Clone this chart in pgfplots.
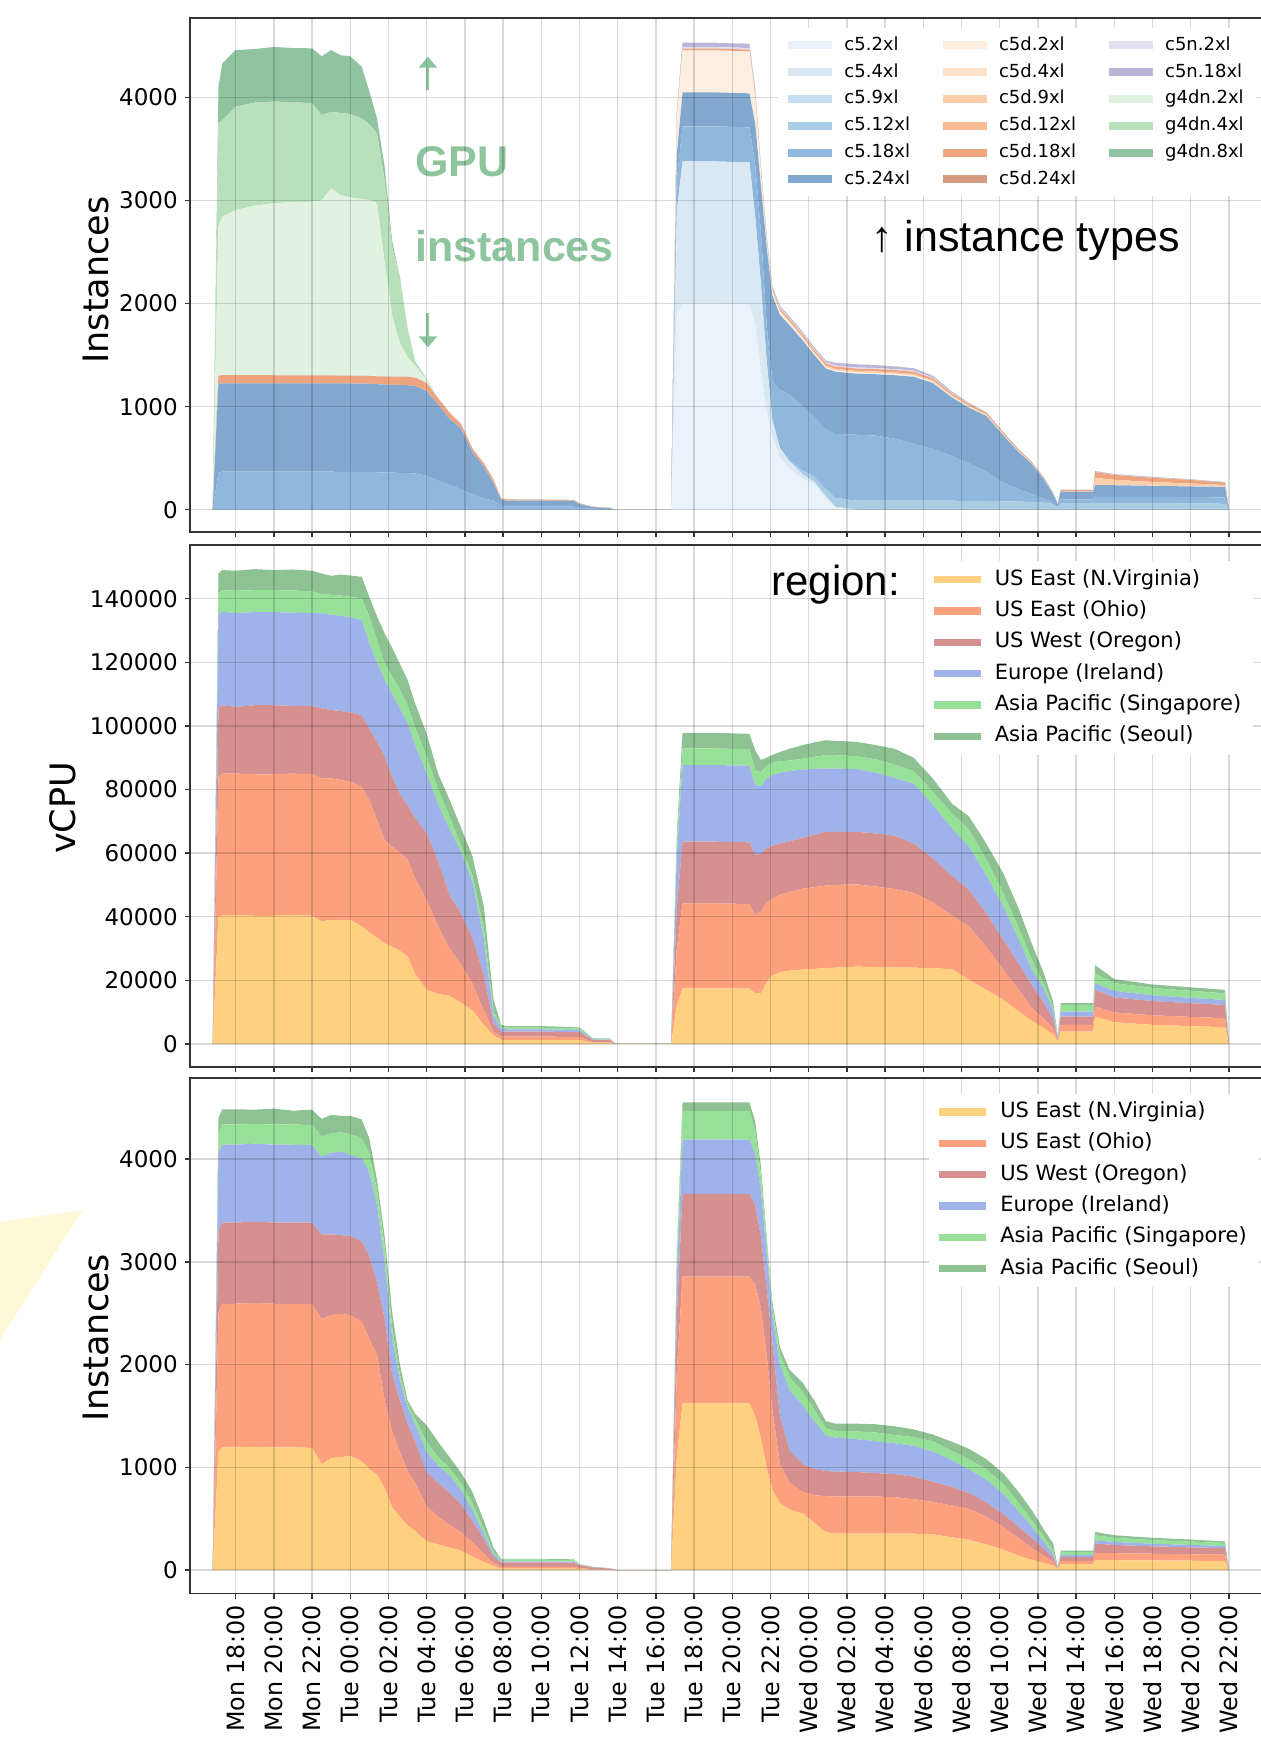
\documentclass[border=0pt]{standalone}
\usepackage{pgfplots}
\pgfplotsset{compat=1.18}
\usepackage{pgfplotstable}
\usepackage{fontspec}
\setmainfont{DejaVu Sans}
\newfontfamily\lib{Liberation Sans}
\usetikzlibrary{arrows.meta}

\definecolor{cA}{HTML}{EAF2FB}
\definecolor{cB}{HTML}{DAE8F4}
\definecolor{cC}{HTML}{C6DEEF}
\definecolor{cD}{HTML}{A9CDE5}
\definecolor{cE}{HTML}{8FB8DC}
\definecolor{cF}{HTML}{82A8CF}
\definecolor{dA}{HTML}{FDEEE2}
\definecolor{dB}{HTML}{FDE1CA}
\definecolor{dC}{HTML}{FCCFAB}
\definecolor{dD}{HTML}{F9BB92}
\definecolor{dE}{HTML}{EEA57F}
\definecolor{dF}{HTML}{D49C85}
\definecolor{nA}{HTML}{E2E0EE}
\definecolor{nB}{HTML}{BCB5D9}
\definecolor{gA}{HTML}{E1F2E0}
\definecolor{gB}{HTML}{B8E0BA}
\definecolor{gC}{HTML}{90C4A0}
\definecolor{rNV}{HTML}{FDD17F}
\definecolor{rOH}{HTML}{FCA07D}
\definecolor{rOR}{HTML}{D79090}
\definecolor{rIE}{HTML}{9FB3EA}
\definecolor{rSG}{HTML}{96E097}
\definecolor{rSE}{HTML}{8EC292}
\definecolor{annot}{HTML}{8EC59F}
\definecolor{triY}{HTML}{FEF7D8}

\pgfplotstableread{
x A B D E F PA PC PE NA NB GA GB GC
16.8 0 0 0 0 0 0 0 0 0 0 0 0 0
17.1 0 0 0 360 860 0 0 80 0 0 1450 1000 350
17.3 0 0 0 369 857 0 0 81 0 0 1536 937 550
18.0 0 0 0 369 857 0 0 81 0 0 1601 1003 549
19.0 0 0 0 369 857 0 0 81 0 0 1643 1000 520
20.0 0 0 0 369 857 0 0 79 0 0 1670 985 530
21.0 0 0 0 369 857 0 0 79 0 0 1680 970 525
22.0 0 0 0 369 857 0 0 79 0 0 1684 955 533
22.5 0 0 0 369 857 0 0 77 0 0 1697 830 570
23.0 0 0 0 369 857 0 0 77 0 0 1816 741 600
23.5 0 0 0 368 857 0 0 77 0 0 1752 796 560
24.0 0 0 0 368 857 0 0 75 0 0 1730 810 560
24.6 0 0 0 367 857 0 0 76 0 0 1715 783 502
25.0 0 0 0 366 856 0 0 76 0 0 1707 735 320
25.4 0 0 0 364 854 0 0 77 0 0 1680 677 148
25.8 0 0 0 362 853 0 0 78 0 0 1107 800 130
26.2 0 0 0 360 852 0 0 80 0 0 588 670 50
26.6 0 0 0 358 852 0 0 81 0 0 323 636 10
27.0 0 0 0 356 852 0 0 82 0 0 190 270 10
27.4 0 0 0 352 848 0 0 82 0 0 118 40 0
28.0 0 0 0 330 820 0 0 80 0 0 30 10 0
28.6 0 0 0 280 740 0 0 60 0 0 0 0 0
29.2 0 0 0 240 640 0 0 60 0 0 0 0 0
29.8 0 0 0 200 590 0 0 40 0 0 0 0 0
30.4 0 0 0 150 410 0 0 30 0 0 0 0 0
31.0 0 0 0 110 307 0 0 33 0 0 0 0 0
31.5 0 0 0 90 166 0 0 32 0 0 0 0 0
31.9 0 0 0 40 55 0 0 13 0 0 0 0 0
32.2 0 0 0 30 58 0 0 12 0 0 0 0 0
34.0 0 0 0 30 58 0 0 10 0 0 0 0 0
35.7 0 0 0 30 55 0 0 9 0 0 0 0 0
36.0 0 0 0 20 35 0 0 6 0 0 0 0 0
36.7 0 0 0 10 15 0 0 4 0 0 0 0 0
37.6 0 0 0 5 10 0 0 4 0 0 0 0 0
37.9 0 0 0 0 0 0 0 0 0 0 0 0 0
40.8 0 0 0 0 0 0 0 0 0 0 0 0 0
41.1 1900 1000 0 300 250 350 0 15 15 30 0 0 0
41.4 2000 1380 0 340 330 405 3 17 15 40 0 0 0
43.0 2000 1380 0 340 330 405 3 17 15 40 0 0 0
44.9 1990 1380 0 340 330 405 3 17 15 40 0 0 0
45.2 1800 1050 0 500 400 250 5 25 15 35 0 0 0
45.5 1350 850 0 500 450 120 5 20 10 15 0 0 0
45.8 950 500 0 350 750 50 5 20 15 20 0 0 0
46.1 708 162 0 380 830 35 5 20 10 15 0 0 0
46.5 500 100 0 560 730 30 10 20 10 15 0 0 0
47.0 400 70 5 645 670 25 15 20 10 15 0 0 0
47.7 300 40 40 620 640 20 15 20 10 15 0 0 0
48.3 250 20 50 580 600 15 15 20 10 15 0 0 0
48.9 110 20 70 580 590 15 15 20 10 15 0 0 0
49.4 20 10 85 621 604 12 15 23 10 25 0 0 0
50.5 0 0 88 640 592 12 15 23 10 30 0 0 0
51.5 0 0 88 632 595 12 15 23 10 27 0 0 0
52.5 0 0 88 602 615 12 15 23 10 25 0 0 0
53.5 0 0 88 552 650 12 15 23 10 22 0 0 0
54.5 0 0 88 502 640 12 13 20 8 17 0 0 0
55.5 0 0 88 432 570 10 12 18 5 10 0 0 0
56.4 0 0 85 365 540 8 10 17 3 7 0 0 0
57.3 0 0 85 285 540 6 9 15 2 4 0 0 0
58.2 0 0 82 178 460 5 7 13 1 4 0 0 0
59.0 0 0 80 120 360 4 6 12 1 2 0 0 0
59.7 0 0 75 75 290 3 5 10 1 1 0 0 0
60.3 0 0 70 40 190 2 4 9 1 1 0 0 0
60.8 0 0 55 15 80 2 3 7 1 1 0 0 0
61.05 0 0 20 5 25 1 1 3 0 0 0 0 0
61.2 0 0 60 40 75 1 4 10 0 2 0 0 0
62.9 0 0 60 40 75 1 4 10 0 2 0 0 0
63.0 0 0 60 66 114 2 68 55 1 9 0 0 0
64.0 0 0 60 66 112 2 50 48 1 6 0 0 0
66.0 0 0 60 65 107 2 36 40 1 7 0 0 0
68.0 0 0 60 63 103 2 27 35 1 4 0 0 0
69.8 0 0 58 62 102 2 16 22 1 5 0 0 0
70.0 0 0 0 0 0 0 0 0 0 0 0 0 0
}\topdata

\pgfplotstableread{
x NV OH OR IE SG SE
16.8 0 0 0 0 0 0
17.1 40000 44000 21500 29500 6800 6200
17.3 40500 44500 21500 29400 6800 6300
18.0 40500 44500 21000 29500 7000 6300
19.0 40300 44500 21700 29300 6900 6600
20.0 40300 44500 21700 29300 6900 6300
21.0 40500 44500 21300 29300 7000 6600
22.0 40300 44500 21400 29300 6800 6500
22.5 38500 45000 22000 29900 6100 6400
23.0 39000 44500 21500 30000 6200 6000
23.5 39000 44000 21700 29900 6400 6600
24.0 39000 43500 21700 30000 6400 6700
24.6 37000 43900 22500 29900 6800 6800
25.0 35000 41500 22500 27000 8500 6000
25.4 33500 37000 24500 25000 7000 7500
25.8 31600 32500 26200 24100 5200 9500
26.2 30500 31500 22000 26000 5500 9000
26.6 29300 31000 18200 27000 6000 8000
27.0 27500 30500 17000 26000 5500 8000
27.4 22000 30000 19000 23000 5500 7500
28.0 17000 28260 20940 18800 5300 7300
28.6 15700 21300 20500 18000 4500 5000
29.2 15100 14900 16800 20700 4000 5300
29.8 13000 12000 16000 19500 2000 5500
30.4 10500 8500 14500 17500 2000 6000
31.0 6000 4500 11000 11500 3000 7000
31.5 2700 1100 2700 2500 1200 3800
31.9 1300 1000 1600 1000 550 550
32.2 1260 1040 1600 700 500 500
34.0 1260 1040 1600 700 500 500
35.7 1200 1000 1500 700 500 400
36.0 1200 1000 1500 600 500 400
36.7 400 200 660 140 200 180
37.6 400 200 600 150 200 150
37.9 0 0 0 0 0 0
40.8 0 0 0 0 0 0
41.1 12000 18000 13000 16500 3500 3300
41.4 17500 26700 19400 24100 5200 4950
43.0 17500 26700 19400 24100 5200 4950
44.9 17400 26600 19400 24100 5200 4800
45.2 16000 24500 18900 22000 4700 6300
45.5 15800 25700 18300 21200 4500 3800
45.8 19500 25000 17000 22000 4000 2500
46.1 21500 24100 16700 22100 4000 2500
46.5 22500 24500 16000 22300 3600 2900
47.0 23000 24800 15900 22100 3300 3700
47.7 23400 25400 16000 21500 3400 4300
48.3 23600 25700 16500 20700 3800 4500
48.9 23800 26000 16900 19900 4200 4700
49.4 24000 26000 16700 19900 4200 4500
50.5 24300 25890 16510 19700 4100 4500
51.5 24200 25300 16700 19100 4200 4500
52.5 24000 24700 16800 18200 4100 5000
53.5 24000 23500 15500 18800 4000 4200
54.5 23800 20700 13800 16900 4200 4100
55.5 23500 16900 12400 15000 4700 3100
56.4 20100 16800 11500 13600 5300 4200
57.3 17000 13500 10500 12000 5000 5000
58.2 13800 9460 9440 10500 4200 6200
59.0 10200 6800 8200 7600 3600 6100
59.7 7200 4000 7100 5000 3000 5000
60.3 5000 3000 5000 4500 1700 3300
60.8 3000 2000 2800 2700 1000 1800
61.05 730 270 200 300 500 200
61.2 3900 2070 2620 1570 2100 540
62.9 3900 2070 2620 1570 2100 540
63.0 8590 3140 5240 2100 3130 2600
64.0 6800 3100 4700 2100 2400 1300
66.0 6000 3000 4500 1800 2300 1100
68.0 5600 2900 4300 1700 2200 1100
69.8 5240 2830 4190 1570 2070 1100
70.0 0 0 0 0 0 0
}\vcpudata

\pgfplotstableread{
x NV OH OR IE SG SE
16.8 0 0 0 0 0 0
17.1 1150 1350 800 750 200 150
17.3 1194 1398 790 757 197 148
18.0 1194 1398 790 757 197 148
19.0 1200 1400 790 760 190 140
20.0 1194 1398 790 757 197 154
21.0 1194 1398 790 757 197 134
22.0 1190 1400 790 755 195 150
22.5 1030 1414 823 757 196 170
23.0 1090 1390 787 793 190 180
23.5 1100 1394 766 813 187 160
24.0 1112 1368 770 790 200 180
24.6 1060 1360 781 806 198 181
25.0 980 1270 800 820 180 150
25.4 930 1170 700 750 150 100
25.8 800 850 800 550 150 100
26.2 610 740 550 350 100 150
26.6 520 630 500 200 50 100
27.0 438 526 461 164 33 33
27.4 380 470 400 170 50 50
28.0 280 340 330 200 100 160
28.6 250 270 330 170 80 150
29.2 220 220 310 170 70 110
29.8 190 180 270 140 70 100
30.4 130 140 210 100 70 110
31.0 80 80 140 50 50 80
31.5 40 30 60 30 20 40
31.9 16 17 43 10 16 7
32.2 16 17 43 10 16 7
34.0 16 17 43 10 16 7
35.7 16 17 41 10 16 6
36.0 10 10 30 5 3 1
36.7 5 5 16 2 2 3
37.6 3 3 9 2 1 1
37.9 0 0 0 0 0 0
40.8 0 0 0 0 0 0
41.1 1100 840 550 360 190 56
41.4 1622 1234 806 527 279 82
43.0 1622 1234 806 527 279 82
44.9 1622 1234 806 527 279 82
45.2 1500 1280 770 500 230 90
45.5 1280 1270 700 450 150 80
45.8 1000 1100 650 350 100 50
46.1 780 780 660 260 70 60
46.5 650 380 470 500 100 70
47.0 590 260 310 590 130 70
47.7 550 210 270 570 130 90
48.3 460 270 255 465 110 90
48.9 370 350 245 345 70 70
49.4 355 362 243 330 65 70
50.5 355 362 238 320 75 75
51.5 355 362 228 310 85 80
52.5 355 355 225 300 80 85
53.5 355 335 220 300 85 75
54.5 350 315 195 295 100 65
55.5 320 310 180 260 90 90
56.4 295 300 155 230 100 100
57.3 250 270 140 220 100 100
58.2 200 220 125 195 100 100
59.0 140 170 110 150 80 110
59.7 100 115 95 110 60 100
60.3 70 70 70 70 50 70
60.8 45 40 40 35 30 70
61.05 5 5 5 5 5 5
61.2 60 30 40 20 25 15
62.9 60 30 40 20 25 15
63.0 100 70 90 30 50 32
64.0 97 68 80 30 40 25
66.0 95 65 72 26 34 23
68.0 92 63 67 24 32 20
69.8 90 60 65 20 30 15
70.0 0 0 0 0 0 0
}\instdata

\pgfplotsset{
  base/.style={
    scale only axis, width=538.6pt, xmin=15.6, xmax=72,
    xtick={18,20,...,70}, tick align=outside, tick pos=left,
    major tick length=2.5pt,
    grid=major, major grid style={black,opacity=0.15,line width=0.7pt},
    axis on top, axis line style={black!80,line width=0.8pt},
    major tick style={black!80,line width=0.7pt},
    stack plots=y,
    ticklabel style={font=\fontsize{11.5}{13}\selectfont},
    /pgf/number format/assume math mode=true,
    /pgf/number format/fixed,
    /pgf/number format/precision=0,
    /pgf/number format/set thousands separator={},
    scaled y ticks=false,
    legend cell align=left,
    ylabel style={font=\fontsize{17.5}{20}\selectfont, anchor=center},
  },
  reglegend/.style={
    legend style={draw=none, fill=white, inner sep=3pt, row sep=3.15pt,
      font=\fontsize{10.5}{12}\selectfont,
      nodes={inner ysep=1pt, inner xsep=3pt, text height=8pt, text depth=2.5pt}},
    /tikz/every odd column/.append style={column sep=2.3pt},
  },
}

\begin{document}
\begin{tikzpicture}
\fill[triY] (0pt,-610.85pt) -- (41.35pt,-605pt) -- (0pt,-670pt) -- cycle;

% ---------- top panel ----------
\begin{axis}[base, at={(94.9pt,-8.85pt)}, anchor=north west, height=257.15pt,
  ymin=-216, ymax=4774, ytick={0,1000,...,4000}, xticklabel={\mbox{}},
  ylabel={Instances}, ylabel style={at={(axis description cs:-0.0867,0.49)}},
  legend columns=3,
  legend style={at={(0.5461,0.980)}, anchor=north west, draw=none, fill=white,
    inner sep=3pt, row sep=2.4pt, font=\fontsize{9}{10}\selectfont,
    nodes={inner ysep=1pt, inner xsep=3pt, text height=7pt, text depth=2pt}},
  /tikz/every odd column/.append style={column sep=1pt},
  /tikz/every even column/.append style={column sep=11.5pt},
  legend image code/.code={\draw[line width=4pt,#1] (0pt,0pt) -- (22pt,0pt);},
]
\addplot[fill=cA,draw=none,forget plot] table[x=x,y=A]{\topdata}\closedcycle;
\addplot[fill=cB,draw=none,forget plot] table[x=x,y=B]{\topdata}\closedcycle;
\addplot[fill=cD,draw=none,forget plot] table[x=x,y=D]{\topdata}\closedcycle;
\addplot[fill=cE,draw=none,forget plot] table[x=x,y=E]{\topdata}\closedcycle;
\addplot[fill=cF,draw=none,forget plot] table[x=x,y=F]{\topdata}\closedcycle;
\addplot[fill=dA,draw=none,forget plot] table[x=x,y=PA]{\topdata}\closedcycle;
\addplot[fill=dC,draw=none,forget plot] table[x=x,y=PC]{\topdata}\closedcycle;
\addplot[fill=dE,draw=none,forget plot] table[x=x,y=PE]{\topdata}\closedcycle;
\addplot[fill=nA,draw=none,forget plot] table[x=x,y=NA]{\topdata}\closedcycle;
\addplot[fill=nB,draw=none,forget plot] table[x=x,y=NB]{\topdata}\closedcycle;
\addplot[fill=gA,draw=none,forget plot] table[x=x,y=GA]{\topdata}\closedcycle;
\addplot[fill=gB,draw=none,forget plot] table[x=x,y=GB]{\topdata}\closedcycle;
\addplot[fill=gC,draw=none,forget plot] table[x=x,y=GC]{\topdata}\closedcycle;
\addlegendimage{color=cA}\addlegendentry{c5.2xl}
\addlegendimage{color=dA}\addlegendentry{c5d.2xl}
\addlegendimage{color=nA}\addlegendentry{c5n.2xl}
\addlegendimage{color=cB}\addlegendentry{c5.4xl}
\addlegendimage{color=dB}\addlegendentry{c5d.4xl}
\addlegendimage{color=nB}\addlegendentry{c5n.18xl}
\addlegendimage{color=cC}\addlegendentry{c5.9xl}
\addlegendimage{color=dC}\addlegendentry{c5d.9xl}
\addlegendimage{color=gA}\addlegendentry{g4dn.2xl}
\addlegendimage{color=cD}\addlegendentry{c5.12xl}
\addlegendimage{color=dD}\addlegendentry{c5d.12xl}
\addlegendimage{color=gB}\addlegendentry{g4dn.4xl}
\addlegendimage{color=cE}\addlegendentry{c5.18xl}
\addlegendimage{color=dE}\addlegendentry{c5d.18xl}
\addlegendimage{color=gC}\addlegendentry{g4dn.8xl}
\addlegendimage{color=cF}\addlegendentry{c5.24xl}
\addlegendimage{color=dF}\addlegendentry{c5d.24xl}
\node[anchor=base west, inner sep=0pt, text=annot, font=\lib\bfseries\fontsize{21.5}{24}\selectfont] at (axis cs:27.39,3238) {GPU};
\node[anchor=base west, inner sep=0pt, text=annot, font=\lib\bfseries\fontsize{21.5}{24}\selectfont] at (axis cs:27.39,2407) {instances};
\draw[annot, line width=1.5pt, -{Triangle[width=9pt,length=5.5pt]}] (axis cs:28.07,4073) -- (axis cs:28.07,4396);
\draw[annot, line width=1.5pt, -{Triangle[width=9pt,length=5.5pt]}] (axis cs:28.07,1906) -- (axis cs:28.07,1576);
\node[anchor=base west, inner sep=0pt, font=\lib\fontsize{21.5}{24}\selectfont] at (axis cs:51.27,2504) {↑ instance types};
\end{axis}

% ---------- middle panel ----------
\begin{axis}[base, reglegend, at={(94.9pt,-272.6pt)}, anchor=north west, height=260.9pt,
  ymin=-7264, ymax=156824, ytick={0,20000,40000,60000,80000,100000,120000,140000}, xticklabel={\mbox{}},
  ylabel={vCPU}, ylabel style={at={(axis description cs:-0.1175,0.4967)}},
  legend style={at={(0.6812,0.970)}, anchor=north west},
  legend image code/.code={\draw[line width=3.6pt,#1] (0pt,0pt) -- (23.5pt,0pt);},
]
\addplot[fill=rNV,draw=none,forget plot] table[x=x,y=NV]{\vcpudata}\closedcycle;
\addplot[fill=rOH,draw=none,forget plot] table[x=x,y=OH]{\vcpudata}\closedcycle;
\addplot[fill=rOR,draw=none,forget plot] table[x=x,y=OR]{\vcpudata}\closedcycle;
\addplot[fill=rIE,draw=none,forget plot] table[x=x,y=IE]{\vcpudata}\closedcycle;
\addplot[fill=rSG,draw=none,forget plot] table[x=x,y=SG]{\vcpudata}\closedcycle;
\addplot[fill=rSE,draw=none,forget plot] table[x=x,y=SE]{\vcpudata}\closedcycle;
\addlegendimage{color=rNV}\addlegendentry{US East (N.Virginia)}
\addlegendimage{color=rOH}\addlegendentry{US East (Ohio)}
\addlegendimage{color=rOR}\addlegendentry{US West (Oregon)}
\addlegendimage{color=rIE}\addlegendentry{Europe (Ireland)}
\addlegendimage{color=rSG}\addlegendentry{Asia Pacific (Singapore)}
\addlegendimage{color=rSE}\addlegendentry{Asia Pacific (Seoul)}
\node[anchor=base west, inner sep=0pt, font=\lib\fontsize{21}{24}\selectfont] at (axis cs:46.03,141164) {region:};
\end{axis}

% ---------- bottom panel ----------
\begin{axis}[base, reglegend, at={(94.9pt,-539pt)}, anchor=north west, height=257.75pt,
  ymin=-227, ymax=4788, ytick={0,1000,...,4000},
  xticklabels={Mon 18:00,Mon 20:00,Mon 22:00,Tue 00:00,Tue 02:00,Tue 04:00,Tue 06:00,Tue 08:00,Tue 10:00,Tue 12:00,Tue 14:00,Tue 16:00,Tue 18:00,Tue 20:00,Tue 22:00,Wed 00:00,Wed 02:00,Wed 04:00,Wed 06:00,Wed 08:00,Wed 10:00,Wed 12:00,Wed 14:00,Wed 16:00,Wed 18:00,Wed 20:00,Wed 22:00},
  xticklabel style={rotate=90, anchor=east, font=\fontsize{11.9}{13}\selectfont},
  ylabel={Instances}, ylabel style={at={(axis description cs:-0.0867,0.4966)}},
  legend style={at={(0.6863,0.9706)}, anchor=north west},
  legend image code/.code={\draw[line width=3.6pt,#1] (0pt,0pt) -- (23.5pt,0pt);},
]
\addplot[fill=rNV,draw=none,forget plot] table[x=x,y=NV]{\instdata}\closedcycle;
\addplot[fill=rOH,draw=none,forget plot] table[x=x,y=OH]{\instdata}\closedcycle;
\addplot[fill=rOR,draw=none,forget plot] table[x=x,y=OR]{\instdata}\closedcycle;
\addplot[fill=rIE,draw=none,forget plot] table[x=x,y=IE]{\instdata}\closedcycle;
\addplot[fill=rSG,draw=none,forget plot] table[x=x,y=SG]{\instdata}\closedcycle;
\addplot[fill=rSE,draw=none,forget plot] table[x=x,y=SE]{\instdata}\closedcycle;
\addlegendimage{color=rNV}\addlegendentry{US East (N.Virginia)}
\addlegendimage{color=rOH}\addlegendentry{US East (Ohio)}
\addlegendimage{color=rOR}\addlegendentry{US West (Oregon)}
\addlegendimage{color=rIE}\addlegendentry{Europe (Ireland)}
\addlegendimage{color=rSG}\addlegendentry{Asia Pacific (Singapore)}
\addlegendimage{color=rSE}\addlegendentry{Asia Pacific (Seoul)}
\end{axis}

\pgfresetboundingbox
\path[use as bounding box] (0pt,0pt) rectangle (630.5pt,-868.5pt);
\end{tikzpicture}
\end{document}
